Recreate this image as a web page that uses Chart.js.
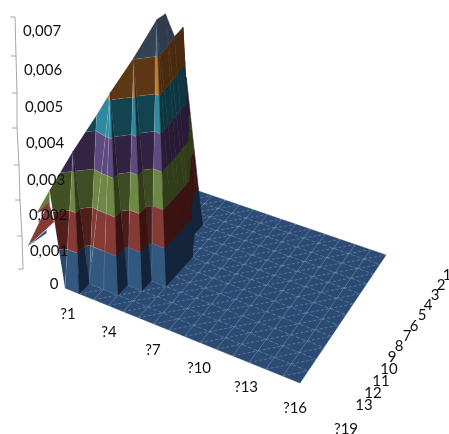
<!DOCTYPE html>
<html><head><meta charset="utf-8">
<style>html,body{margin:0;padding:0;background:#fff}canvas{display:block}</style>
<script src="https://cdn.jsdelivr.net/npm/chart.js@4/dist/chart.umd.min.js"></script>
</head><body><canvas id="c" width="449" height="434"></canvas>
<script>
// ---------- data ----------
const valueTicks = ["0","0,001","0,002","0,003","0,004","0,005","0,006","0,007"];
const categoryTicks = ["?1","?4","?7","?10","?13","?16","?19"];
const seriesTicks = ["1","2","3","4","5","6","7","8","9","10","11","12","13"];
const bandLimits = [0,0.001,0.002,0.003,0.004,0.005,0.006,0.0085];
const colCount = 15, rowCount = 12;
const firstCol = -1;
// surface heights: one list per row (front to back), columns -1..5; null = hidden / flat floor
const zRow0 = [0.00256,0,0,null,null,null,null];
const zRow1 = [null,0.00353,0,0,0,null,null];
const zRow2 = [null,null,0.00441,0.0052,0,0,null];
const zRow3 = [null,null,null,null,0.00604,0,0];
const zRow4 = [null,null,null,null,null,0.00698,0];
const zRow5 = [null,null,null,null,null,0.00688,0];
const zRow6 = [null,null,null,null,null,0.00599,0];
const zRow7 = [null,null,null,null,null,0.00599,null];
const zRow8 = [null,null,null,null,0.0045,0,null];
const zRow9 = [null,null,null,null,0.00397,0,null];
const surface = [zRow0,zRow1,zRow2,zRow3,zRow4,zRow5,zRow6,zRow7,zRow8,zRow9];
// low-lying slivers left of the wall, each triangle as [col,row,z] vertices
const sliverLower = [[-2.3,-0.45,0.00092],[-1.5,0.6,0.00199],[-1.3,0.8,0.00141]];
const sliverBlue  = [[-2.3,-0.45,0.00092],[-3.5,3,0.0002],[-3.5,3,0.0003]];
const sliverUpper = [[-1.62,-0.41,0.00195],[-1,0,0.00256],[-1,0,0.00215]];
const sliverTip   = [[-1.62,-0.41,0.00195],[-1.5,0.6,0.00199],[-1.5,0.6,0.0018]];
const wallJog     = [[5,6,0],[4,7,0.00599],[4,8,0]];

// ---------- layout & style ----------
const floorFL=[65,288],floorFR=[300,383],floorBR=[386,255],floorBL=[172,182];
const zPixels=36000, zLean=0.015;
const axisTickY=[269,236,200,165,128,93,56,17];
const axisTickX=[23,22,20,19,17,17,16,15];
const valueLabelX=[54,49,48,46,45,44,43,42], valueLabelY=[284,251,215,180,143,107,70,31];
const categoryLabelX=[68,109,153,199,246,295,346], categoryLabelY=[314,332,350,368,387,408,429];
const seriesLabelX=[447,441,435,428,422,414,407,399,392,389,381,373,364];
const seriesLabelY=[275,285,295,305,315,326,336,346,357,369,381,393,405];
const bandDark =["#13243a","#3a1311","#303d18","#281b36","#0e3640","#4a2b10","#2f3b4b"];
const bandLight=["#33587f","#853a36","#6f8644","#5f4a80","#2f8aa0","#c27a2c","#55667f"];
const bandLift =[0.45,0.08,0.04,0,0,0,0];
const floorColor="#2c4b74", gridColor="rgba(150,170,195,0.5)";
const fontSpec="15px Lato, Carlito, sans-serif";

// ---------- projection ----------
function homography(p0,p1,p2,p3){
  const dx1=p1[0]-p2[0],dx2=p3[0]-p2[0],sx=p0[0]-p1[0]+p2[0]-p3[0];
  const dy1=p1[1]-p2[1],dy2=p3[1]-p2[1],sy=p0[1]-p1[1]+p2[1]-p3[1];
  const den=dx1*dy2-dx2*dy1;
  const g=(sx*dy2-dx2*sy)/den,h=(dx1*sy-sx*dy1)/den;
  return {a:p1[0]-p0[0]+g*p1[0],b:p3[0]-p0[0]+h*p3[0],c:p0[0],
          d:p1[1]-p0[1]+g*p1[1],e:p3[1]-p0[1]+h*p3[1],f:p0[1],g,h};
}
const H=homography(floorFL,floorFR,floorBR,floorBL);
function project(col,row,z){
  const u=col/colCount,v=row/rowCount,w=H.g*u+H.h*v+1;
  const rise=z*zPixels;
  return {x:(H.a*u+H.b*v+H.c)/w-zLean*rise,y:(H.d*u+H.e*v+H.f)/w-rise,z};
}
function mix(a,b,t){
  const pa=parseInt(a.slice(1),16),pb=parseInt(b.slice(1),16);
  const ch=s=>Math.round(((pa>>s)&255)*(1-t)+((pb>>s)&255)*t);
  return `rgb(${ch(16)},${ch(8)},${ch(0)})`;
}
function shadeOf(tri){
  const [p,q,s]=tri;
  const a=[q[0]-p[0],q[1]-p[1],q[2]-p[2]],b=[s[0]-p[0],s[1]-p[1],s[2]-p[2]];
  let n=[a[1]*b[2]-a[2]*b[1],a[2]*b[0]-a[0]*b[2],a[0]*b[1]-a[1]*b[0]];
  if(n[2]<0)n=n.map(v=>-v);
  const m=(-n[1]-n[0])/(Math.abs(n[0])+Math.abs(n[1])+1e-12);
  return Math.max(0,Math.min(1,(m+0.1)/1.1));
}
function clipBand(pts,lo,hi){
  const cut=(poly,keep,level)=>{
    const out=[];
    poly.forEach((p,i)=>{
      const q=poly[(i+1)%poly.length];
      if(keep(p.z))out.push(p);
      if(keep(p.z)!==keep(q.z)){
        const t=(level-p.z)/(q.z-p.z);
        out.push({x:p.x+(q.x-p.x)*t,y:p.y+(q.y-p.y)*t,z:level});
      }
    });
    return out;
  };
  return cut(cut(pts,z=>z>=lo,lo),z=>z<=hi,hi);
}

// ---------- datasets ----------
const datasets=[];
function addSet(o){o.order=-datasets.length;datasets.push(o);}
function addPolygon(points,color,edge){
  addSet({data:points.concat([points[0]]).map(p=>({x:p.x,y:p.y})),showLine:true,tension:0,pointRadius:0,
    fill:'shape',backgroundColor:color,borderColor:edge,borderWidth:0.6});
}
function addTriangle(tri,shade){
  const t=shade===undefined?shadeOf(tri):shade;
  const pts=tri.map(v=>project(v[0],v[1],v[2]));
  for(let b=0;b<bandDark.length;b++){
    const poly=clipBand(pts,bandLimits[b],bandLimits[b+1]);
    const lit=t<0.05?t:Math.min(1,t+bandLift[b]);
    const fillColor=mix(bandDark[b],bandLight[b],lit);
    if(poly.length>=3) addPolygon(poly,fillColor,t<0.05?fillColor:`rgba(205,205,215,${(0.08+0.14*t).toFixed(2)})`);
  }
}
// floor
addSet({data:[[0,0],[colCount,0],[colCount,rowCount],[0,rowCount],[0,0]].map(v=>{const p=project(v[0],v[1],0);return {x:p.x,y:p.y};}),
  showLine:true,tension:0,pointRadius:0,fill:'shape',backgroundColor:floorColor,borderColor:floorColor,borderWidth:0.5});
function addLines(segs,dash){
  const data=[];
  segs.forEach(s=>{const a=project(s[0],s[1],0),b=project(s[2],s[3],0);
    data.push({x:a.x,y:a.y},{x:b.x,y:b.y},{x:NaN,y:NaN});});
  addSet({data,showLine:true,tension:0,pointRadius:0,fill:false,borderColor:gridColor,borderWidth:0.8,borderDash:dash,spanGaps:false});
}
const segRows=[],segCols=[],segDiag=[];
for(let c=1;c<colCount;c++)segRows.push([c,0,c,rowCount]);
for(let r=1;r<rowCount;r++)segCols.push([0,r,colCount,r]);
for(let c=0;c<colCount;c++)for(let r=0;r<rowCount;r++)segDiag.push([c,r,c+1,r+1]);
addLines(segDiag,[3,2]);
addLines(segCols,[4,2]);
addLines(segRows,[]);
// slivers
addTriangle(sliverBlue,1);
addTriangle(sliverLower,1);
addTriangle(sliverUpper,0.85);
addTriangle(sliverTip,1);
// surface, far rows first
function zAt(c,r){const row=surface[r];if(!row)return null;const v=row[c-firstCol];return v===undefined?null:v;}
for(let r=surface.length-1;r>=0;r--){
  if(r===6)addTriangle(wallJog,0);
  for(let c=firstCol;c<firstCol+surface[0].length-1;c++){
    const za=zAt(c,r),zb=zAt(c+1,r),zc=zAt(c+1,r+1),zd=zAt(c,r+1);
    const A=[c,r,za],B=[c+1,r,zb],C=[c+1,r+1,zc],D=[c,r+1,zd];
    const has=v=>v[2]!==null;
    const tris=[];
    if(has(A)&&has(B)&&has(C)&&has(D)&&za===0&&zb===0&&zc===0&&zd>0){tris.push([A,B,D],[B,C,D]);}
    else{
      if(has(A)&&has(C)&&has(D))tris.push([A,C,D]);
      if(has(A)&&has(B)&&has(C))tris.push([A,B,C]);
      if(!has(C)&&has(A)&&has(B)&&has(D))tris.push([A,B,D]);
      if(!has(A)&&has(B)&&has(C)&&has(D))tris.push([B,C,D]);
    }
    tris.forEach(t=>{if(t.some(v=>v[2]>0))addTriangle(t);});
  }
}
// value axis
const axisData=axisTickY.map((y,i)=>({x:axisTickX[i],y}));
addSet({data:axisData,showLine:true,tension:0,pointRadius:0,fill:false,borderColor:"#a6a6a6",borderWidth:1});
const tickData=[];
axisTickY.forEach((y,i)=>{tickData.push({x:axisTickX[i]-5,y},{x:axisTickX[i],y},{x:NaN,y:NaN});});
addSet({data:tickData,showLine:true,tension:0,pointRadius:0,fill:false,borderColor:"#a6a6a6",borderWidth:1,spanGaps:false});

const tickText={id:'tickText',afterDatasetsDraw(chart){
  const {ctx,scales:{x,y}}=chart;
  ctx.save();ctx.font=fontSpec;ctx.fillStyle="#111";ctx.textAlign="center";ctx.textBaseline="middle";
  const put=(labels,xs,ys)=>labels.forEach((t,i)=>ctx.fillText(t,x.getPixelForValue(xs[i]),y.getPixelForValue(ys[i])));
  put(valueTicks,valueLabelX,valueLabelY);
  put(categoryTicks,categoryLabelX,categoryLabelY);
  put(seriesTicks,seriesLabelX,seriesLabelY);
  ctx.restore();
}};

new Chart(document.getElementById('c'),{
  type:'scatter',
  data:{datasets},
  plugins:[tickText],
  options:{responsive:false,animation:false,clip:false,
    layout:{padding:0},
    elements:{line:{capBezierPoints:false,borderCapStyle:'butt'}},
    plugins:{legend:{display:false},title:{display:false},tooltip:{enabled:false},filler:{drawTime:'beforeDatasetDraw',propagate:false}},
    scales:{
      x:{type:'linear',min:0,max:449,display:false},
      y:{type:'linear',min:0,max:434,reverse:true,display:false}
    }}
});
</script></body></html>
